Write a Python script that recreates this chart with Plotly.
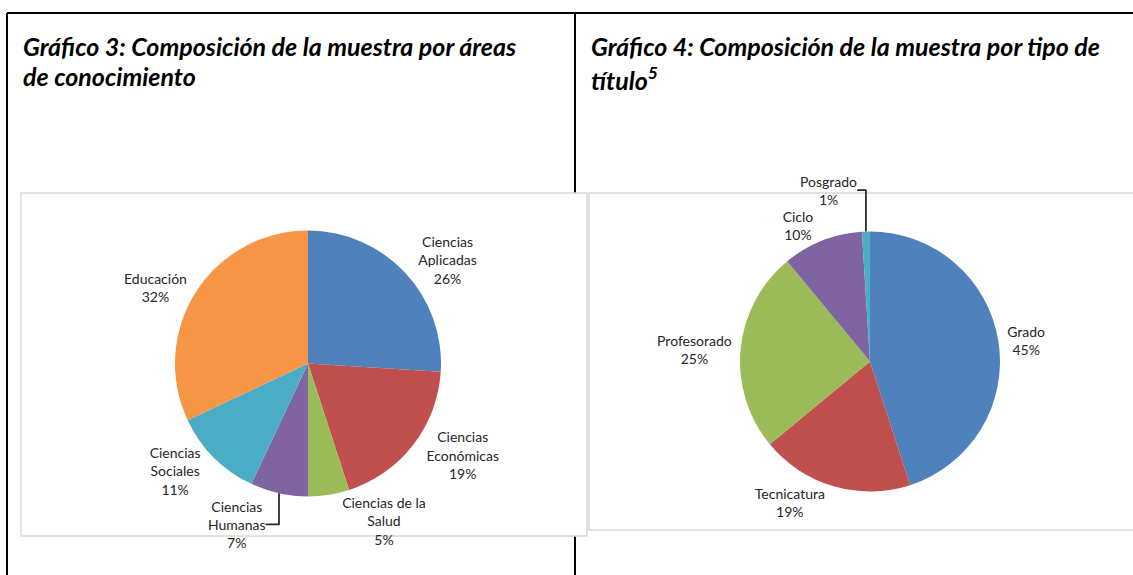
import plotly.graph_objects as go

W, H = 1133, 575

# Gráfico 3: áreas de conocimiento
areas = ['Ciencias<br>Aplicadas', 'Ciencias<br>Económicas', 'Ciencias de la<br>Salud',
         'Ciencias<br>Humanas', 'Ciencias<br>Sociales', 'Educación']
areas_pct = [26, 19, 5, 7, 11, 32]
areas_colors = ['#4F81BD', '#C0504D', '#9BBB59', '#8064A2', '#4BACC6', '#F79646']

# Gráfico 4: tipo de título
titulos = ['Grado', 'Tecnicatura', 'Profesorado', 'Ciclo', 'Posgrado']
titulos_pct = [45, 19, 25, 10, 1]
titulos_colors = ['#4F81BD', '#C0504D', '#9BBB59', '#8064A2', '#4BACC6']


def px(x):
    return x / W


def py(y):
    return 1 - y / H


def pie(labels, values, colors, cx, cy, r):
    return go.Pie(
        labels=labels,
        values=values,
        sort=False,
        direction='clockwise',
        rotation=0,
        marker=dict(colors=colors, line=dict(width=0)),
        textposition='outside',
        texttemplate='%{label}<br>%{value}%',
        textfont=dict(family='Lato', size=14, color='#262626'),
        hoverinfo='skip',
        showlegend=False,
        domain=dict(x=[px(cx - r), px(cx + r)], y=[py(cy + r), py(cy - r)]),
    )


fig = go.Figure()
fig.add_trace(pie(areas, areas_pct, areas_colors, 308, 363.5, 133))
fig.add_trace(pie(titulos, titulos_pct, titulos_colors, 870, 361.5, 130))

shapes = [
    # table borders
    dict(type='line', x0=px(7), x1=px(1133), y0=py(13), y1=py(13)),
    dict(type='line', x0=px(7), x1=px(7), y0=py(13), y1=py(575)),
    dict(type='line', x0=px(575), x1=px(575), y0=py(13), y1=py(575)),
]
for s in shapes:
    s.update(xref='paper', yref='paper', layer='below', line=dict(color='black', width=2))

# chart frames
for x0, x1, y0, y1 in [(21, 587, 193, 536), (589, 1140, 193, 530)]:
    shapes.append(dict(type='rect', xref='paper', yref='paper', layer='below',
                       x0=px(x0), x1=px(x1), y0=py(y1), y1=py(y0),
                       fillcolor='white', line=dict(color='#d9d9d9', width=1.5)))

title_font = dict(family='Lato', size=25, color='black', weight='bold', style='italic')
annotations = [
    dict(text='Gráfico 3: Composición de la muestra por áreas', x=px(21), y=py(46)),
    dict(text='de conocimiento', x=px(21), y=py(76)),
    dict(text='Gráfico 4: Composición de la muestra por tipo de', x=px(589), y=py(46)),
    dict(text='título<sup>5</sup>', x=px(589), y=py(78)),
]
for a in annotations:
    a.update(xref='paper', yref='paper', xanchor='left', yanchor='middle',
             showarrow=False, font=title_font)

fig.update_layout(
    width=W, height=H,
    margin=dict(l=0, r=0, t=0, b=0),
    paper_bgcolor='white',
    plot_bgcolor='white',
    shapes=shapes,
    annotations=annotations,
)

fig.write_html('out.html', config={'displayModeBar': False},
               post_script="document.body.style.margin='0';")
